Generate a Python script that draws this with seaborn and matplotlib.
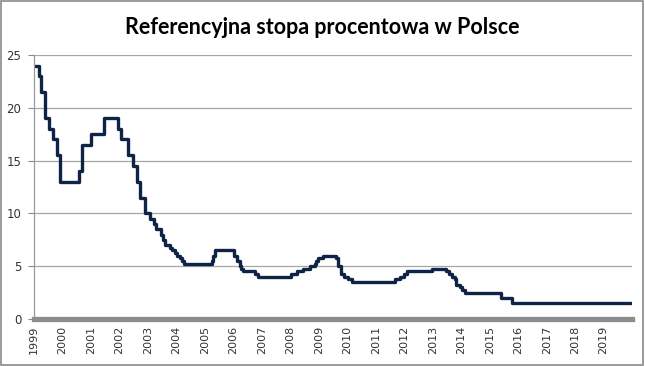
import numpy as np
import pandas as pd
import seaborn as sns
import matplotlib.pyplot as plt
from matplotlib.patches import Rectangle

# daty zmian (rok dziesietny) i poziom stopy referencyjnej
daty = [1999.00, 1999.19, 1999.24, 1999.39, 1999.54, 1999.68, 1999.80, 1999.91,
        2000.57, 2000.68, 2000.99, 2001.46, 2001.96, 2002.04, 2002.31, 2002.46,
        2002.62, 2002.72, 2002.89, 2003.09, 2003.21, 2003.28, 2003.45, 2003.54,
        2003.60, 2003.77, 2003.85, 2003.95, 2004.03, 2004.12, 2004.18, 2004.26,
        2005.24, 2005.28, 2005.35, 2006.03, 2006.12, 2006.23, 2006.28, 2006.34,
        2006.75, 2006.86, 2008.04, 2008.22, 2008.45, 2008.68, 2008.86, 2008.91,
        2008.98, 2009.15, 2009.62, 2009.68, 2009.77, 2009.88, 2010.02, 2010.16,
        2011.67, 2011.84, 2011.98, 2012.10, 2012.99, 2013.48, 2013.57, 2013.66,
        2013.77, 2013.83, 2013.95, 2014.04, 2014.12, 2015.41, 2015.79, 2019.97]
stopa = [24, 23, 21.5, 19, 18, 17, 15.5, 13,
         14, 16.5, 17.5, 19, 18, 17, 15.5, 14.5,
         13, 11.5, 10, 9.5, 9, 8.5, 8, 7.5,
         7, 6.75, 6.5, 6.25, 6, 5.75, 5.5, 5.25,
         5.5, 6, 6.5, 6, 5.5, 5, 4.75, 4.5,
         4.25, 4, 4.25, 4.5, 4.75, 5, 5.25, 5.5,
         5.75, 6, 5.75, 5, 4.25, 4, 3.75, 3.5,
         3.75, 4, 4.25, 4.5, 4.75, 4.5, 4.25, 4,
         3.75, 3.25, 3, 2.75, 2.5, 2, 1.5, 1.5]
lata = list(range(1999, 2020))
y_ticks = [0, 5, 10, 15, 20, 25]

df = pd.DataFrame({"data": daty, "stopa": stopa})

sns.set_style("white")
plt.rcParams["font.family"] = ["DejaVu Sans"]

fig = plt.figure(figsize=(6.45, 3.66), dpi=100)
ax = fig.add_axes([0.0527, 0.1284, 0.9273, 0.7213])

sns.lineplot(data=df, x="data", y="stopa", ax=ax, color="#0e2345",
             linewidth=2.4, drawstyle="steps-post", estimator=None, sort=False)

ax.set_xlim(1999, 2020)
ax.set_ylim(0, 25)
ax.set_yticks(y_ticks)
ax.set_yticklabels([str(v) for v in y_ticks], fontsize=8.5, color="#333333")
ax.set_xticks(lata)
ax.set_xticklabels([str(r) for r in lata], rotation=90, fontsize=8, color="#333333")
ax.tick_params(axis="y", length=4, width=0.8, color="#888888", pad=5, left=True)
ax.tick_params(axis="x", length=0, pad=5)
ax.yaxis.grid(True, color="#a6a6a6", linewidth=0.9)
ax.set_axisbelow(True)
ax.set_xlabel("")
ax.set_ylabel("")

for s in ["top", "right"]:
    ax.spines[s].set_visible(False)
ax.spines["left"].set_color("#999999")
ax.spines["left"].set_linewidth(0.9)
ax.spines["bottom"].set_color("#8c8c8c")
ax.spines["bottom"].set_linewidth(3.8)

fig.text(0.5, 0.925, "Referencyjna stopa procentowa w Polsce", ha="center",
         va="center", fontsize=15.5, fontweight="bold", color="black",
         family=["Lato", "DejaVu Sans"])

fig.patches.append(Rectangle((0.002, 0.003), 0.995, 0.993, transform=fig.transFigure,
                             fill=False, edgecolor="#8a8a8a", linewidth=1.2))

fig.savefig("out.png", dpi=100)
